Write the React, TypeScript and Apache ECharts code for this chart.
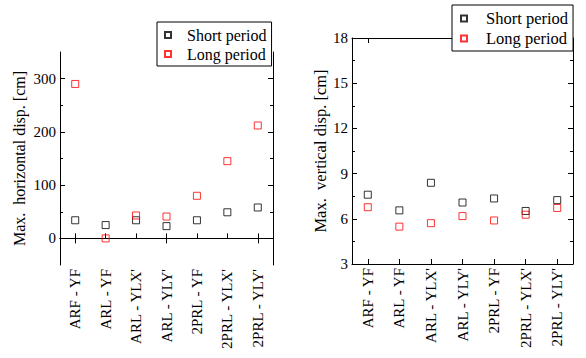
import React, { useEffect, useRef } from "react";
import * as echarts from "echarts";

const categories = ["ARF - YF", "ARL - YF", "ARL - YLX'", "ARL - YLY'", "2PRL - YF", "2PRL - YLX'", "2PRL - YLY'"];
const horizShort = [34, 25, 34, 23, 34, 49, 58];
const horizLong = [290, 0, 43, 41, 80, 145, 212];
const vertShort = [7.6, 6.56, 8.39, 7.08, 7.35, 6.52, 7.24];
const vertLong = [6.77, 5.48, 5.71, 6.18, 5.89, 6.27, 6.72];
const horizMajorTicks = [0, 100, 200, 300];
const horizMinorTicks = [50, 150, 250];

const FONT = "'Liberation Serif', 'Times New Roman', serif";

export default function App() {
  const ref = useRef<HTMLDivElement>(null);
  useEffect(() => {
    if (!ref.current) return;
    const chart = echarts.init(ref.current, null, { renderer: "svg" });
    const axisLine = { show: true, lineStyle: { color: "#000", width: 1 } };
    const catAxis = (grid: number, pos: "bottom" | "top") => ({
      type: "category",
      data: categories,
      gridIndex: grid,
      position: pos,
      boundaryGap: true,
      axisLine,
      axisTick: { show: true, inside: true, alignWithLabel: true, length: 5, lineStyle: { color: "#000" } },
      axisLabel: pos === "bottom"
        ? { show: true, rotate: 90, interval: 0, margin: 4, fontFamily: FONT, fontSize: 15, color: "#000" }
        : { show: false },
      splitLine: { show: false },
    });
    const hAxis = (pos: "left" | "right", minor: boolean) => ({
      type: "value",
      gridIndex: 0,
      position: pos,
      min: -50,
      max: 350,
      interval: 50,
      axisLine: minor ? { show: false } : axisLine,
      axisTick: {
        show: true,
        inside: true,
        length: minor ? 3 : 5,
        customValues: minor ? horizMinorTicks : horizMajorTicks,
        lineStyle: { color: "#000" },
      },
      axisLabel: pos === "left" && !minor
        ? { show: true, customValues: horizMajorTicks, margin: 4, fontFamily: FONT, fontSize: 15, color: "#000" }
        : { show: false },
      splitLine: { show: false },
      name: pos === "left" && !minor ? "Max.  horizontal disp. [cm]" : "",
      nameLocation: "middle",
      nameRotate: 90,
      nameGap: 33,
      nameTextStyle: { fontFamily: FONT, fontSize: 16, color: "#000" },
    });
    const vAxis = (pos: "left" | "right") => ({
      type: "value",
      gridIndex: 1,
      position: pos,
      min: 3,
      max: 18,
      interval: 3,
      axisLine,
      axisTick: { show: true, inside: true, length: 5, lineStyle: { color: "#000" } },
      minorTick: { show: true, splitNumber: 2, length: 3, lineStyle: { color: "#000" } },
      axisLabel: pos === "left"
        ? { show: true, margin: 4, fontFamily: FONT, fontSize: 15, color: "#000" }
        : { show: false },
      splitLine: { show: false },
      name: pos === "left" ? "Max.  vertical disp. [cm]" : "",
      nameLocation: "middle",
      nameRotate: 90,
      nameGap: 23,
      nameTextStyle: { fontFamily: FONT, fontSize: 16.5, color: "#000" },
    });
    const sym = (color: string) => ({
      color: "rgba(0,0,0,0)",
      borderColor: color,
      borderWidth: 1,
    });
    const scatter = (name: string, data: number[], color: string, x: number, y: number) => ({
      type: "scatter",
      name,
      data,
      xAxisIndex: x,
      yAxisIndex: y,
      symbol: "rect",
      symbolSize: 7,
      itemStyle: sym(color),
      z: 3,
    });
    const legend = (left: number, top: number, fs: number, padL: number, textPad: number) => ({
      left,
      top,
      orient: "vertical",
      data: ["Short period", "Long period"].map((n) => ({ name: n })),
      icon: "rect",
      itemWidth: 6,
      itemHeight: 6,
      itemGap: 3,
      padding: [5, 5, 4, padL],
      backgroundColor: "#fff",
      borderColor: "#000",
      borderWidth: 1,
      borderRadius: 0,
      textStyle: { fontFamily: FONT, fontSize: fs, lineHeight: fs, color: "#000", padding: [0, 0, 0, textPad] },
      z: 10,
    });
    chart.setOption({
      animation: false,
      backgroundColor: "#fff",
      grid: [
        { left: 60, top: 52, width: 213, height: 213, containLabel: false },
        { left: 352, top: 38, width: 221, height: 226, containLabel: false },
      ],
      xAxis: [catAxis(0, "bottom"), catAxis(0, "top"), catAxis(1, "bottom"), catAxis(1, "top")],
      yAxis: [hAxis("left", false), hAxis("left", true), hAxis("right", false), hAxis("right", true), vAxis("left"), vAxis("right")],
      legend: [
        { ...legend(157, 22, 16, 7, 11), seriesIndex: [0, 1] },
        { ...legend(452, 5, 16.5, 8, 14), seriesIndex: [2, 3] },
      ],
      series: [
        { ...scatter("Short period", horizShort, "#000", 0, 0) },
        { ...scatter("Long period", horizLong, "#ff0000", 0, 0) },
        { ...scatter("Short period", vertShort, "#000", 2, 4) },
        { ...scatter("Long period", vertLong, "#ff0000", 2, 4) },
      ],
    });
    return () => chart.dispose();
  }, []);
  return <div ref={ref} style={{ position: "fixed", left: 0, top: 0, width: 586, height: 358 }} />;
}
